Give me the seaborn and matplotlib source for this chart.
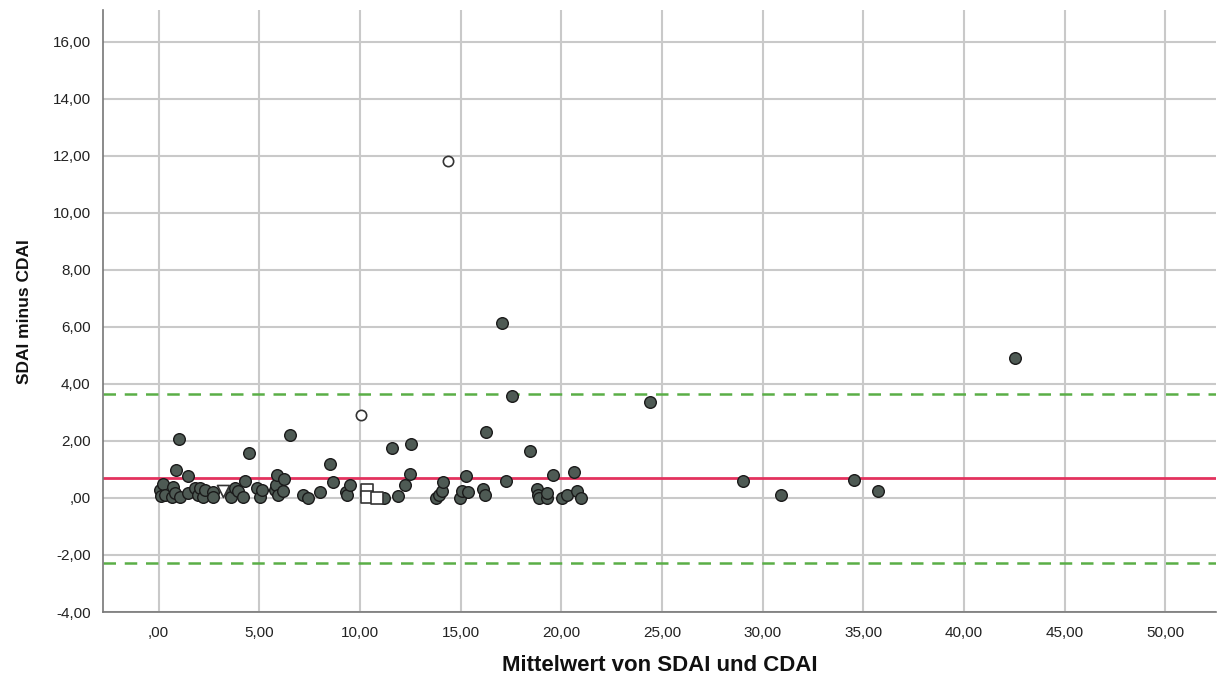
import matplotlib
matplotlib.use("Agg")
import matplotlib.pyplot as plt
import seaborn as sns
import pandas as pd
from matplotlib.ticker import FuncFormatter

# Bland-Altman data: mean of SDAI and CDAI (x) vs difference SDAI - CDAI (y)
mean_vals = [
    0.07, 0.12, 0.23, 0.32, 0.65, 0.73, 0.81, 0.86, 1.03, 1.06, 1.47, 1.47,
    1.81, 1.94, 2.06, 2.22, 2.30, 2.72, 2.72, 3.55, 3.60, 3.79, 3.96, 4.21,
    4.29, 4.49, 4.87, 5.03, 5.12, 5.78, 5.81, 5.86, 5.94, 6.19, 6.24, 6.52,
    7.19, 7.43, 8.01, 8.51, 8.68, 9.29, 9.34, 9.50, 11.19, 11.57, 11.90,
    12.23, 12.48, 12.53, 13.77, 13.92, 14.06, 14.14, 14.97, 15.05, 15.26,
    15.38, 16.12, 16.22, 16.24, 17.04, 17.28, 17.55, 18.47, 18.80, 18.85,
    18.90, 19.27, 19.30, 19.60, 20.06, 20.31, 20.63, 20.79, 20.99, 24.43,
    29.02, 30.89, 34.54, 35.75, 42.52,
]
diff_vals = [
    0.29, 0.08, 0.50, 0.11, 0.05, 0.38, 0.17, 0.99, 2.07, 0.05, 0.76, 0.19,
    0.35, 0.09, 0.35, 0.05, 0.29, 0.20, 0.03, 0.23, 0.05, 0.35, 0.23, 0.03,
    0.60, 1.56, 0.35, 0.05, 0.29, 0.29, 0.46, 0.79, 0.11, 0.23, 0.68, 2.22,
    0.11, 0.00, 0.20, 1.20, 0.56, 0.20, 0.09, 0.46, 0.00, 1.75, 0.08,
    0.46, 0.84, 1.90, 0.00, 0.09, 0.23, 0.56, 0.00, 0.26, 0.78,
    0.20, 0.30, 0.11, 2.32, 6.14, 0.61, 3.57, 1.63, 0.31, 0.11,
    0.00, 0.00, 0.17, 0.82, 0.00, 0.09, 0.90, 0.25, 0.00, 3.36,
    0.58, 0.10, 0.63, 0.24, 4.91,
]

# Remaining cases drawn with hollow symbols
open_circle_x = [14.38, 10.03]
open_circle_y = [11.82, 2.92]
open_square_x = [10.33, 10.33, 10.86]
open_square_y = [0.29, 0.05, 0.00]
open_tri_x = [3.21]
open_tri_y = [0.23]

# Mean difference and limits of agreement
mean_diff = 0.69
upper_loa = 3.65
lower_loa = -2.27

x_ticks = [0, 5, 10, 15, 20, 25, 30, 35, 40, 45, 50]
y_ticks = [-4, -2, 0, 2, 4, 6, 8, 10, 12, 14, 16]

sns.set_theme(style="white")
plt.rcParams["font.family"] = ["Liberation Sans", "DejaVu Sans"]

fig = plt.figure(figsize=(12.18, 6.82), dpi=100)
ax = fig.add_axes([0.0846, 0.1026, 0.9134, 0.8824])

grid_c = "#c9c9c9"
for v in x_ticks:
    ax.axvline(v, color=grid_c, lw=1.5, zorder=0)
for v in y_ticks:
    ax.axhline(v, color=grid_c, lw=1.5, zorder=0)

ax.axhline(upper_loa, color="#5aae47", lw=1.8, ls=(0, (5, 3.5)), zorder=1)
ax.axhline(lower_loa, color="#5aae47", lw=1.8, ls=(0, (5, 3.5)), zorder=1)
ax.axhline(mean_diff, color="#e3325e", lw=2.0, zorder=1)

df = pd.DataFrame({"mean": mean_vals, "diff": diff_vals})
sns.scatterplot(data=df, x="mean", y="diff", ax=ax, s=70, color="#4e5a54",
                edgecolor="#1a1a1a", linewidth=1.0, zorder=3)

df_oc = pd.DataFrame({"mean": open_circle_x, "diff": open_circle_y})
sns.scatterplot(data=df_oc, x="mean", y="diff", ax=ax, s=55, color="white",
                edgecolor="#333333", linewidth=1.2, zorder=3)
df_os = pd.DataFrame({"mean": open_square_x, "diff": open_square_y})
sns.scatterplot(data=df_os, x="mean", y="diff", ax=ax, s=65, marker="s",
                color="white", edgecolor="#333333", linewidth=1.2, zorder=3)
df_ot = pd.DataFrame({"mean": open_tri_x, "diff": open_tri_y})
sns.scatterplot(data=df_ot, x="mean", y="diff", ax=ax, s=75, marker="v",
                color="white", edgecolor="#333333", linewidth=1.2, zorder=3)

ax.set_xlim(-2.76, 52.5)
ax.set_ylim(-4.0, 17.1)
ax.set_xticks(x_ticks)
ax.set_yticks(y_ticks)


def de_fmt(v, pos):
    s = f"{v:.2f}".replace(".", ",")
    if s.startswith("0,"):
        s = s[1:]
    return s


ax.xaxis.set_major_formatter(FuncFormatter(de_fmt))
ax.yaxis.set_major_formatter(FuncFormatter(de_fmt))
ax.tick_params(axis="both", labelsize=11, labelcolor="#222222", length=4,
               width=1, color="#aaaaaa")
ax.tick_params(axis="x", pad=6)
ax.tick_params(axis="y", pad=5)

for side in ["top", "right"]:
    ax.spines[side].set_visible(False)
for side in ["left", "bottom"]:
    ax.spines[side].set_color("#777777")
    ax.spines[side].set_linewidth(1.2)

ax.set_xlabel("Mittelwert von SDAI und CDAI", fontsize=16, fontweight="bold",
              labelpad=11, color="#111111")
ax.set_ylabel("SDAI minus CDAI", fontsize=12.5, fontweight="bold",
              labelpad=15, color="#111111")

fig.savefig("out.png", dpi=100)
